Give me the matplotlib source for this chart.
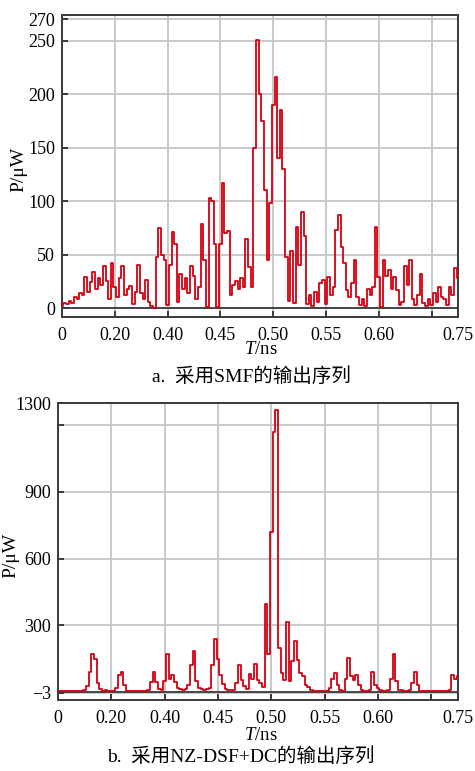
import numpy as np
import matplotlib.pyplot as plt

plt.rcParams['font.family'] = ['Liberation Serif', 'Noto Sans CJK SC']
plt.rcParams['mathtext.fontset'] = 'custom'
plt.rcParams['mathtext.rm'] = 'Liberation Serif'
plt.rcParams['mathtext.it'] = 'Liberation Serif:italic'

# x axis: evenly spaced grid positions carrying uneven labels
tick_pos = [0, 1, 2, 3, 4, 5, 6, 7, 7.5]
tick_lab = ['0', '0.20', '0.40', '0.45', '0.50', '0.55', '0.60', '', '0.75']
x = np.linspace(0, 7.5, 151)  # sampling positions, step 0.05 grid units

# a. SMF output (uW)
p_smf = [2, 5, 4, 7, 5, 10, 8, 14, 12, 29,
         15, 24, 34, 18, 28, 22, 39, 25, 8, 42,
         20, 10, 28, 39, 12, 18, 21, 4, 15, 40,
         14, 8, 26, 6, 2, 0, 48, 75, 50, 45,
         3, 40, 71, 60, 6, 32, 18, 28, 14, 39,
         30, 8, 20, 79, 45, 1, 103, 100, 60, 1,
         60, 117, 70, 72, 12, 22, 25, 18, 28, 20,
         65, 38, 20, 150, 251, 200, 175, 110, 45, 98,
         190, 216, 140, 185, 130, 48, 7, 53, 5, 76,
         40, 90, 67, 4, 12, 2, 15, 6, 23, 26,
         4, 29, 12, 20, 73, 87, 57, 42, 17, 10,
         23, 45, 10, 3, 8, 2, 18, 12, 20, 76,
         29, 1, 45, 30, 36, 18, 29, 17, 3, 6,
         39, 22, 45, 8, 3, 12, 32, 5, 2, 8,
         3, 14, 6, 20, 10, 8, 3, 20, 12, 37, 28]

# b. NZ-DSF+DC output (uW)
p_nzdsf = [3, 3, 3, 3, 3, 3, 3, 3, 3, 3,
           8, 25, 90, 173, 150, 40, 15, 5, 10, 4,
           6, 3, 20, 75, 91, 30, 5, 4, 3, 3,
           3, 3, 3, 5, 8, 45, 91, 45, 12, 10,
           50, 173, 60, 75, 45, 20, 12, 8, 15, 30,
           120, 185, 50, 20, 12, 10, 15, 20, 120, 240,
           150, 75, 35, 12, 8, 10, 8, 40, 121, 55,
           25, 15, 80, 60, 128, 55, 40, 24, 397, 173,
           720, 1170, 1270, 200, 84, 54, 315, 50, 140, 230,
           143, 84, 70, 30, 24, 8, 5, 3, 3, 3,
           3, 5, 20, 60, 84, 30, 8, 5, 60, 151,
           70, 54, 76, 30, 8, 5, 3, 10, 91, 30,
           20, 8, 5, 5, 10, 60, 173, 50, 10, 8,
           5, 5, 10, 40, 91, 30, 5, 3, 3, 3,
           3, 3, 3, 3, 3, 3, 3, 10, 76, 60, 70]

red = '#d40010'
grid_c = '#c9c9c9'

fig = plt.figure(figsize=(4.75, 7.71), dpi=100)
ax1 = fig.add_axes([0.1305, 0.5888, 0.8337, 0.3917])
ax2 = fig.add_axes([0.1221, 0.0921, 0.8421, 0.3852])


def style(ax):
    ax.set_xlim(0, 7.5)
    ax.set_xticks(tick_pos)
    ax.set_xticklabels(tick_lab)
    ax.grid(True, color=grid_c, lw=1.4)
    ax.set_axisbelow(True)
    for s in ax.spines.values():
        s.set_color('#3a3a3a')
        s.set_linewidth(1.4)
    ax.tick_params(direction='in', length=4, width=1.4, color='#3a3a3a',
                   labelsize=13, pad=5)
    ax.tick_params(axis='x', pad=7)


ax1.plot(x, p_smf, color=red, lw=1.3, drawstyle='steps-mid', zorder=3)
style(ax1)
ax1.set_ylim(-8.4, 274)
ax1.set_yticks([0, 50, 100, 150, 200, 250, 270])
ax1.axhline(0, color='#3a3a3a', lw=1.3, zorder=2)

ax2.plot(x, p_nzdsf, color=red, lw=1.3, drawstyle='steps-mid', zorder=3)
style(ax2)
ax2.set_ylim(-36, 1296)
ax2.set_yticks([-3, 300, 600, 900, 1200, 1300])
ax2.set_yticklabels(['\u22123', '300', '600', '900', '', '1300'])
ax2.axhline(0, color='#3a3a3a', lw=1.3, zorder=2)

W, H = 475, 771
fig.text(19 / W, 1 - 169 / H, 'P/\u03bcW', rotation=90, ha='center', va='center', fontsize=14)
fig.text(11 / W, 1 - 555 / H, 'P/\u03bcW', rotation=90, ha='center', va='center', fontsize=14)
fig.text(261 / W, 1 - 350 / H, '$T$/ns', ha='center', va='center', fontsize=13.5)
fig.text(261 / W, 1 - 735 / H, '$T$/ns', ha='center', va='center', fontsize=13.5)
fig.text(251 / W, 1 - 377 / H, 'a.  采用SMF的输出序列', ha='center', va='center', fontsize=14)
fig.text(241 / W, 1 - 757 / H, 'b.  采用NZ-DSF+DC的输出序列', ha='center', va='center', fontsize=14)

fig.savefig('out.png', dpi=100)
